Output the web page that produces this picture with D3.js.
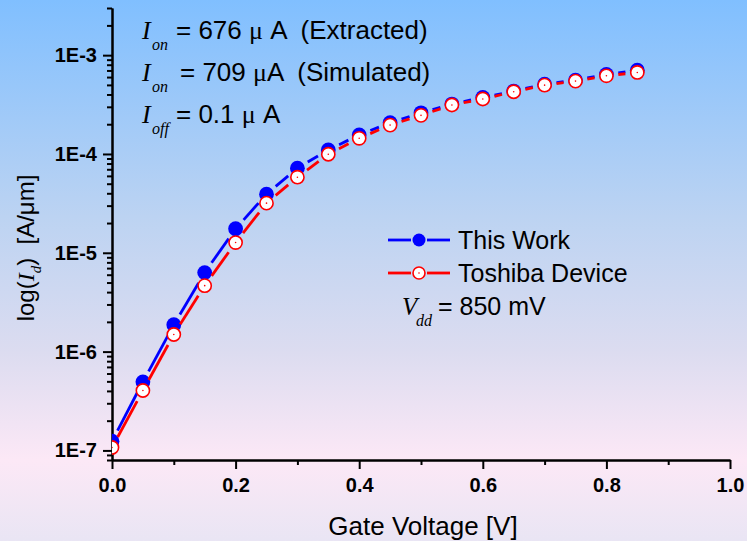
<!DOCTYPE html>
<html>
<head>
<meta charset="utf-8">
<script src="https://cdn.jsdelivr.net/npm/d3@7"></script>
<style>
  html, body { margin: 0; padding: 0; }
  svg text { white-space: pre; }
</style>
</head>
<body>
<div id="chart"></div>
<script>
// gate voltage sweep [V]
const vgs = [0, 0.05, 0.1, 0.15, 0.2, 0.25, 0.3, 0.35, 0.4, 0.45, 0.5, 0.55, 0.6, 0.65, 0.7, 0.75, 0.8, 0.85];
// drain current [A/um]
const thisWork = [1.24e-7, 4.94e-7, 1.87e-6, 6.3e-6, 1.75e-5, 3.92e-5, 7.18e-5, 1.10e-4, 1.56e-4, 2.07e-4, 2.61e-4, 3.20e-4, 3.73e-4, 4.33e-4, 5.09e-4, 5.58e-4, 6.38e-4, 7.05e-4];
const toshiba = [1.07e-7, 4.04e-7, 1.49e-6, 4.65e-6, 1.27e-5, 3.18e-5, 5.82e-5, 9.93e-5, 1.44e-4, 1.96e-4, 2.46e-4, 3.13e-4, 3.60e-4, 4.26e-4, 4.97e-4, 5.46e-4, 6.18e-4, 6.68e-4];
const xTicks = [0, 0.2, 0.4, 0.6, 0.8, 1.0];
const xMinor = [0.1, 0.3, 0.5, 0.7, 0.9];
const yTicks = [1e-7, 1e-6, 1e-5, 1e-4, 1e-3];
const yTickLabels = ['1E-7', '1E-6', '1E-5', '1E-4', '1E-3'];

const width = 747, height = 541;
const plotL = 112, plotR = 730, plotT = 8, plotB = 460;
const sans = '"Liberation Sans", Arial, sans-serif';
const serif = '"Liberation Serif", "Times New Roman", serif';

const svg = d3.select('#chart').append('svg')
  .attr('width', width)
  .attr('height', height);

// background gradient
const defs = svg.append('defs');
const grad = defs.append('linearGradient')
  .attr('id', 'bg').attr('x1', 0).attr('y1', 0).attr('x2', 0).attr('y2', 1);
[['0%', '#80bfff'], ['40%', '#bcd3f2'], ['65%', '#dcdcf0'], ['85%', '#fce8f6'], ['100%', '#e9e5f4']]
  .forEach(([o, c]) => grad.append('stop').attr('offset', o).attr('stop-color', c));
svg.append('rect').attr('width', width).attr('height', height).attr('fill', 'url(#bg)');

defs.append('clipPath').attr('id', 'plotClip')
  .append('rect').attr('x', plotL).attr('y', plotT - 10)
  .attr('width', plotR - plotL + 10).attr('height', plotB - plotT + 10);

const x = d3.scaleLinear().domain([0, 1]).range([plotL, plotR]);
const y = d3.scaleLog().domain([8e-8, 3e-3]).range([plotB, plotT]);

// minor log ticks (2..9 per decade)
const yMinor = [];
for (let e = -8; e <= -3; e++) {
  for (let k = 2; k <= 9; k++) {
    const v = k * Math.pow(10, e);
    if (v >= 8e-8 * 0.999 && v <= 3e-3 * 1.001) yMinor.push(v);
  }
}

const axisStyle = (g) => {
  g.selectAll('path, line').attr('stroke', '#000').attr('stroke-width', 2);
  g.selectAll('text').attr('font-family', sans).attr('font-weight', 'bold')
    .attr('font-size', 20).attr('fill', '#000');
};

svg.append('g')
  .attr('transform', `translate(0,${plotB})`)
  .call(d3.axisBottom(x).tickValues(xMinor).tickSize(5).tickSizeOuter(0).tickFormat(''))
  .call(axisStyle);
svg.append('g')
  .attr('transform', `translate(0,${plotB})`)
  .call(d3.axisBottom(x).tickValues(xTicks).tickSize(9).tickSizeOuter(0).tickPadding(9)
    .tickFormat(d3.format('.1f')))
  .call(axisStyle);

svg.append('g')
  .attr('transform', `translate(${plotL},0)`)
  .call(d3.axisLeft(y).tickValues(yMinor).tickSize(5).tickSizeOuter(0).tickFormat(''))
  .call(axisStyle);
svg.append('g')
  .attr('transform', `translate(${plotL},0)`)
  .call(d3.axisLeft(y).tickValues(yTicks).tickSize(9).tickSizeOuter(0).tickPadding(6)
    .tickFormat((d, i) => yTickLabels[i]))
  .call(axisStyle);

// series: line segments with gaps round the symbols, then the symbols
const plot = svg.append('g').attr('clip-path', 'url(#plotClip)');
const gap = 12;

function drawSeries(vals, color, filled) {
  const pts = vgs.map((v, i) => [x(v), y(vals[i])]);
  const segs = d3.pairs(pts).map(([a, b]) => {
    const dx = b[0] - a[0], dy = b[1] - a[1];
    const len = Math.hypot(dx, dy);
    const ux = dx / len, uy = dy / len;
    return [a[0] + ux * gap, a[1] + uy * gap, b[0] - ux * gap, b[1] - uy * gap, len];
  }).filter((s) => s[4] > 2 * gap);

  plot.append('g').selectAll('line')
    .data(segs)
    .join('line')
    .attr('x1', (s) => s[0]).attr('y1', (s) => s[1])
    .attr('x2', (s) => s[2]).attr('y2', (s) => s[3])
    .attr('stroke', color)
    .attr('stroke-width', 2.8);

  const g = plot.append('g');
  if (filled) {
    g.selectAll('circle')
      .data(pts)
      .join('circle')
      .attr('cx', (p) => p[0]).attr('cy', (p) => p[1])
      .attr('r', 7.4)
      .attr('fill', color);
  } else {
    g.selectAll('circle.o')
      .data(pts)
      .join('circle')
      .attr('class', 'o')
      .attr('cx', (p) => p[0]).attr('cy', (p) => p[1])
      .attr('r', 6.6)
      .attr('fill', '#fff')
      .attr('stroke', color)
      .attr('stroke-width', 1.6);
    g.selectAll('circle.c')
      .data(pts)
      .join('circle')
      .attr('class', 'c')
      .attr('cx', (p) => p[0]).attr('cy', (p) => p[1])
      .attr('r', 0.8)
      .attr('fill', color);
  }
}

drawSeries(thisWork, '#0000ff', true);
drawSeries(toshiba, '#ff0000', false);

// symbol with italic subscript, followed by plain text pieces
function subLabel(xp, base, sym, sub, subX, pieces, restX, fs) {
  svg.append('text').attr('x', xp).attr('y', base)
    .attr('font-family', serif).attr('font-style', 'italic').attr('font-size', fs)
    .attr('fill', '#000').text(sym);
  svg.append('text').attr('x', subX).attr('y', base + 11)
    .attr('font-family', serif).attr('font-style', 'italic').attr('font-size', 16)
    .attr('fill', '#000').text(sub);
  const t = svg.append('text').attr('x', restX).attr('y', base)
    .attr('font-size', fs).attr('fill', '#000');
  pieces.forEach(([s, f]) => {
    t.append('tspan').attr('font-family', f === 'serif' ? serif : sans).text(s);
  });
}

subLabel(142, 39, 'I', 'on', 152, [['= 676 ', 'sans'], ['\u03bc', 'serif'], [' A  (Extracted)', 'sans']], 176, 26);
subLabel(142, 81, 'I', 'on', 152, [['= 709 ', 'sans'], ['\u03bc', 'serif'], ['A  (Simulated)', 'sans']], 180, 26);
subLabel(142, 123, 'I', 'off', 152, [['= 0.1 ', 'sans'], ['\u03bc', 'serif'], [' A', 'sans']], 176, 26);

// legend
const legend = [
  { name: 'This Work', color: '#0000ff', filled: true, cy: 240 },
  { name: 'Toshiba Device', color: '#ff0000', filled: false, cy: 273 },
];
legend.forEach((d) => {
  svg.append('line').attr('x1', 388).attr('x2', 411).attr('y1', d.cy).attr('y2', d.cy)
    .attr('stroke', d.color).attr('stroke-width', 2.8);
  svg.append('line').attr('x1', 427).attr('x2', 450).attr('y1', d.cy).attr('y2', d.cy)
    .attr('stroke', d.color).attr('stroke-width', 2.8);
  if (d.filled) {
    svg.append('circle').attr('cx', 419).attr('cy', d.cy).attr('r', 6.5).attr('fill', d.color);
  } else {
    svg.append('circle').attr('cx', 419).attr('cy', d.cy).attr('r', 6)
      .attr('fill', '#fff').attr('stroke', d.color).attr('stroke-width', 1.6);
    svg.append('circle').attr('cx', 419).attr('cy', d.cy).attr('r', 0.8).attr('fill', d.color);
  }
  svg.append('text').attr('x', 458).attr('y', d.cy + 9)
    .attr('font-family', sans).attr('font-size', 25).attr('fill', '#000').text(d.name);
});
subLabel(402, 315, 'V', 'dd', 416, [['= 850 mV', 'sans']], 438, 25);

// axis titles
svg.append('text')
  .attr('x', (plotL + plotR) / 2 + 2).attr('y', 535)
  .attr('text-anchor', 'middle')
  .attr('font-family', sans).attr('font-size', 26).attr('fill', '#000')
  .text('Gate Voltage [V]');

const yt = svg.append('text')
  .attr('transform', 'translate(34,248) rotate(-90)')
  .attr('text-anchor', 'middle')
  .attr('font-family', sans).attr('font-size', 24).attr('fill', '#000');
yt.append('tspan').text('log(');
yt.append('tspan').attr('font-family', serif).attr('font-style', 'italic').text('I');
yt.append('tspan').attr('font-family', serif).attr('font-style', 'italic')
  .attr('font-size', 15).attr('dy', 7).text('d');
yt.append('tspan').attr('dy', -7).text(')  [A/\u03bcm]');
</script>
</body>
</html>
